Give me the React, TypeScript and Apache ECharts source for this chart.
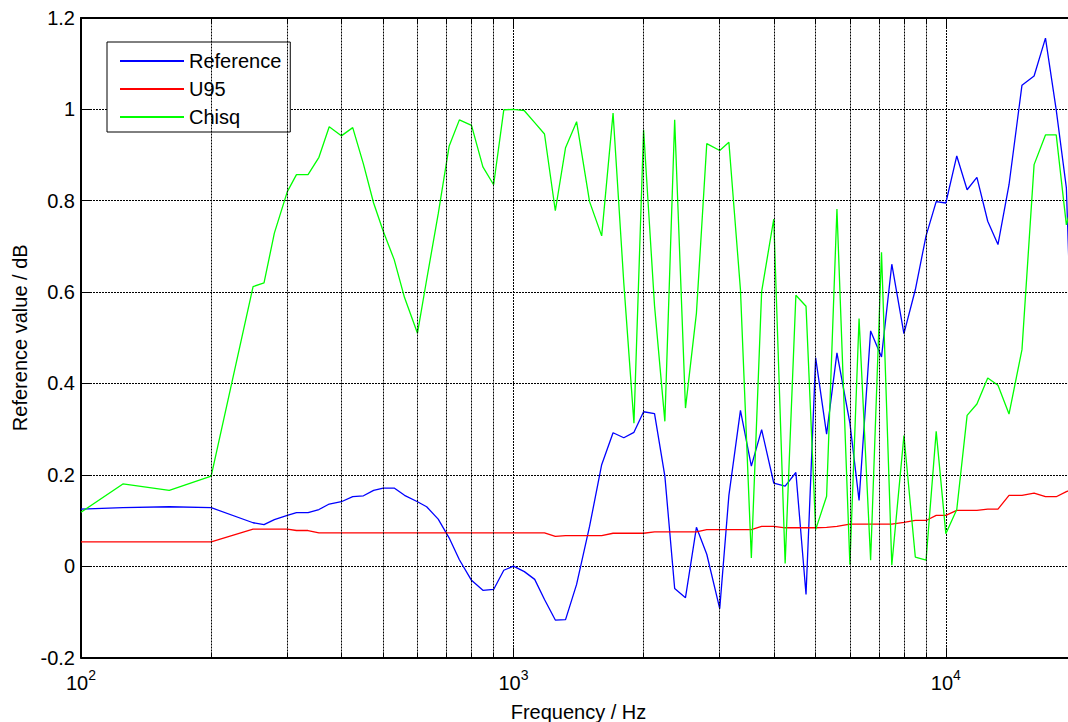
import React, { useEffect, useRef } from "react";
import * as echarts from "echarts";

// Measurement frequencies (Hz): 1/3-octave steps up to 200 Hz, then 1/12-octave steps.
const frequencies = [
  100, 125, 160, 200,
  250, 265, 280, 300, 315, 335, 355, 375, 400, 425, 450, 475,
  500, 530, 560, 600, 630, 670, 710, 750, 800, 850, 900, 950,
  1000, 1060, 1120, 1180, 1250, 1320, 1400, 1500, 1600, 1700, 1800, 1900,
  2000, 2120, 2240, 2360, 2500, 2650, 2800, 3000, 3150, 3350, 3550, 3750,
  4000, 4250, 4500, 4750, 5000, 5300, 5600, 6000, 6300, 6700, 7100, 7500,
  8000, 8500, 9000, 9500,
  10000, 10600, 11200, 11800, 12500, 13200, 14000, 15000, 16000, 17000, 18000, 19000,
  20000,
];

// Reference value (dB)
const referenceValues = [
  0.125, 0.128, 0.13, 0.128,
  0.095, 0.091, 0.102, 0.111, 0.117, 0.117, 0.124, 0.136, 0.141, 0.152, 0.154, 0.166,
  0.171, 0.171, 0.155, 0.141, 0.13, 0.103, 0.062, 0.014, -0.031, -0.053, -0.051, -0.009,
  0.0, -0.012, -0.029, -0.073, -0.118, -0.117, -0.04, 0.087, 0.222, 0.292, 0.281, 0.293,
  0.338, 0.334, 0.197, -0.049, -0.069, 0.085, 0.026, -0.093, 0.155, 0.341, 0.219, 0.299,
  0.182, 0.175, 0.205, -0.062, 0.456, 0.289, 0.467, 0.313, 0.144, 0.515, 0.458, 0.661,
  0.509, 0.605, 0.723, 0.798,
  0.795, 0.898, 0.824, 0.851, 0.755, 0.704, 0.835, 1.053, 1.073, 1.156, 0.999, 0.828,
  0.2,
];

// Expanded uncertainty U95 (dB)
const u95Values = [
  0.053, 0.053, 0.053, 0.053,
  0.081, 0.081, 0.081, 0.081, 0.078, 0.078, 0.073, 0.073, 0.073, 0.073, 0.073, 0.073,
  0.073, 0.073, 0.073, 0.073, 0.073, 0.073, 0.073, 0.073, 0.073, 0.073, 0.073, 0.073,
  0.073, 0.073, 0.073, 0.073, 0.065, 0.067, 0.067, 0.067, 0.067, 0.072, 0.072, 0.072,
  0.072, 0.075, 0.075, 0.075, 0.075, 0.075, 0.08, 0.08, 0.08, 0.08, 0.08, 0.087,
  0.087, 0.084, 0.084, 0.084, 0.084, 0.085, 0.087, 0.092, 0.092, 0.092, 0.092, 0.092,
  0.096, 0.1, 0.1, 0.111,
  0.111, 0.122, 0.122, 0.122, 0.125, 0.125, 0.155, 0.155, 0.16, 0.152, 0.152, 0.163,
  0.172,
];

// Chi-square consistency check
const chisqValues = [
  0.118, 0.18, 0.166, 0.197,
  0.612, 0.62, 0.729, 0.82, 0.857, 0.857, 0.895, 0.962, 0.942, 0.96, 0.88, 0.795,
  0.733, 0.671, 0.588, 0.51, 0.627, 0.771, 0.919, 0.977, 0.965, 0.874, 0.835, 0.999,
  1.0, 0.997, 0.971, 0.946, 0.778, 0.916, 0.973, 0.798, 0.723, 0.992, 0.62, 0.313,
  0.955, 0.57, 0.317, 0.977, 0.346, 0.554, 0.925, 0.91, 0.928, 0.605, 0.018, 0.601,
  0.76, 0.006, 0.593, 0.569, 0.08, 0.153, 0.782, 0.003, 0.542, 0.013, 0.687, 0.002,
  0.286, 0.02, 0.013, 0.295,
  0.071, 0.124, 0.33, 0.355, 0.412, 0.396, 0.333, 0.474, 0.879, 0.944, 0.944, 0.747,
  0.83,
];

// Minor (2..9 x decade) grid positions on the logarithmic frequency axis
const minorGridFreqs = [
  200, 300, 400, 500, 600, 700, 800, 900,
  2000, 3000, 4000, 5000, 6000, 7000, 8000, 9000,
];

const seriesNames = ["Reference", "U95", "Chisq"];
const seriesColors = ["#0000ff", "#ff0000", "#00ff00"];

const X_MIN = 100;
const X_MAX = 20000;
const Y_MIN = -0.2;
const Y_MAX = 1.2;
const Y_STEP = 0.2;
const MINOR_TICK = 0.011; // minor tick length in y-units (about 5 px)

const FONT = '"Liberation Sans", Arial, Helvetica, sans-serif';
const GRID_DASH = [2, 1];

function toPoints(values: number[]) {
  return frequencies.map((f, i) => [f, values[i]]);
}

export default function App() {
  const ref = useRef<HTMLDivElement>(null);

  useEffect(() => {
    if (!ref.current) return;
    const chart = echarts.init(ref.current, undefined, { renderer: "svg" });

    const minorTicks: any[] = [];
    minorGridFreqs.forEach((f) => {
      minorTicks.push([{ coord: [f, Y_MIN] }, { coord: [f, Y_MIN + MINOR_TICK] }]);
      minorTicks.push([{ coord: [f, Y_MAX] }, { coord: [f, Y_MAX - MINOR_TICK] }]);
    });

    const dataSeries = [referenceValues, u95Values, chisqValues].map((vals, i) => ({
      name: seriesNames[i],
      type: "line",
      data: toPoints(vals),
      symbol: "none",
      z: 3,
      lineStyle: { color: seriesColors[i], width: 1.3 },
      itemStyle: { color: seriesColors[i] },
    }));

    const decadeLabel = (v: number) => {
      const e = Math.log10(v);
      if (Math.abs(e - Math.round(e)) > 1e-6) return "";
      return `{b|10}{s|${Math.round(e)}}`;
    };

    const axisLine = { show: true, onZero: false, lineStyle: { color: "#000", width: 2 } };
    const axisTick = { show: true, inside: true, length: 10, lineStyle: { color: "#000", width: 1 } };
    const gridLine = { show: true, lineStyle: { color: "#000", type: GRID_DASH, width: 1 } };

    chart.setOption({
      animation: false,
      textStyle: { fontFamily: FONT, color: "#000" },
      grid: { left: 81, top: 18, width: 995, height: 639.5, outerBoundsMode: "none", containLabel: false },
      legend: {
        data: seriesNames,
        orient: "vertical",
        left: 107,
        top: 42,
        itemWidth: 64,
        itemHeight: 20,
        itemGap: 8,
        padding: [9, 9, 5, 12],
        backgroundColor: "#fff",
        borderColor: "#000",
        borderWidth: 1,
        selectedMode: false,
        itemStyle: { opacity: 0 },
        textStyle: { fontSize: 20, color: "#000", fontFamily: FONT },
      },
      xAxis: [
        {
          type: "log",
          logBase: 10,
          min: X_MIN,
          max: X_MAX,
          name: "Frequency / Hz",
          nameLocation: "middle",
          nameGap: 44,
          nameTextStyle: { fontSize: 20, color: "#000", fontFamily: FONT },
          axisLine,
          axisTick,
          axisLabel: {
            margin: 10,
            showMaxLabel: false,
            formatter: decadeLabel,
            rich: {
              b: { fontSize: 20, lineHeight: 30, color: "#000", fontFamily: FONT },
              s: { fontSize: 14, lineHeight: 6, verticalAlign: "top", color: "#000", fontFamily: FONT },
            },
          },
          splitLine: gridLine,
        },
        {
          type: "log",
          logBase: 10,
          min: X_MIN,
          max: X_MAX,
          position: "top",
          axisLine,
          axisTick,
          axisLabel: { show: false },
          splitLine: { show: false },
        },
      ],
      yAxis: {
        type: "value",
        min: Y_MIN,
        max: Y_MAX,
        interval: Y_STEP,
        name: "Reference value / dB",
        nameLocation: "middle",
        nameGap: 50,
        nameTextStyle: { fontSize: 20, color: "#000", fontFamily: FONT },
        axisLine,
        axisTick,
        axisLabel: { fontSize: 20, color: "#000", margin: 6, fontFamily: FONT },
        splitLine: gridLine,
      },
      series: [
        {
          name: "minor-grid",
          type: "line",
          data: [],
          z: 1,
          silent: true,
          markLine: {
            silent: true,
            symbol: "none",
            label: { show: false },
            lineStyle: { color: "#000", type: GRID_DASH, width: 1 },
            data: minorGridFreqs.map((f) => ({ xAxis: f })),
          },
        },
        {
          name: "minor-ticks",
          type: "line",
          data: [],
          z: 1,
          silent: true,
          markLine: {
            silent: true,
            symbol: "none",
            label: { show: false },
            lineStyle: { color: "#000", type: "solid", width: 1 },
            data: minorTicks,
          },
        },
        ...dataSeries,
      ],
    });

    return () => chart.dispose();
  }, []);

  return (
    <div
      style={{
        position: "fixed",
        left: 0,
        top: 0,
        width: 1068,
        height: 722,
        overflow: "hidden",
        background: "#fff",
      }}
    >
      <div ref={ref} style={{ width: 1100, height: 722 }} />
    </div>
  );
}
